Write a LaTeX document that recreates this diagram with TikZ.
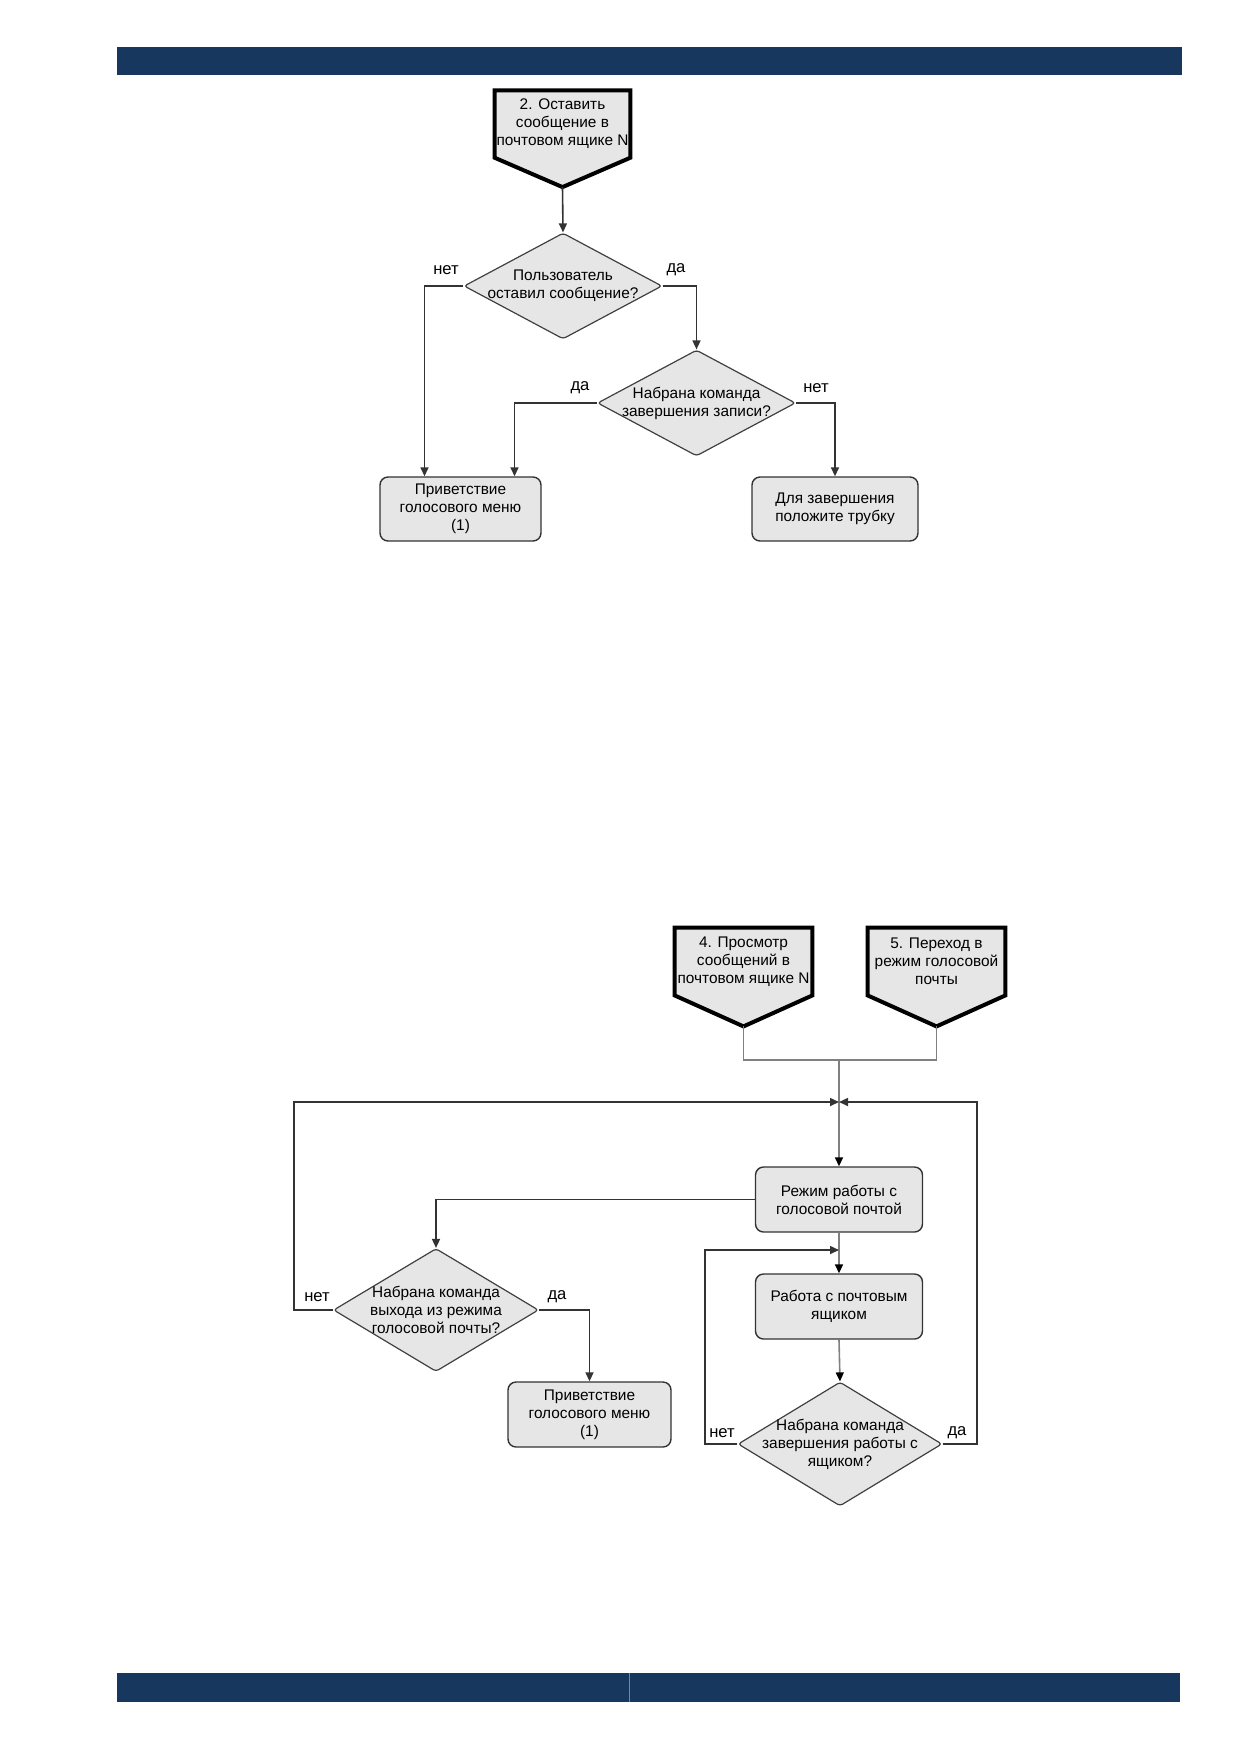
\documentclass[tikz,border=0pt]{standalone}
\usepackage{fontspec}
\setmainfont{Liberation Sans}
\usetikzlibrary{arrows.meta}
\usetikzlibrary{shapes.geometric}
\usetikzlibrary{backgrounds}

\definecolor{barblue}{RGB}{24,55,94}
\definecolor{boxgray}{RGB}{230,230,230}

\tikzset{
  box/.style={rectangle, rounded corners=4pt, draw=black!80, line width=0.7pt,
    fill=boxgray, inner sep=1pt, align=center, font=\fontsize{7.7}{9}\selectfont},
  dec/.style={diamond, rounded corners=1.5pt, draw=black!75, line width=0.6pt,
    fill=boxgray, inner sep=0pt},
  dectext/.style={align=center, inner sep=0pt, font=\fontsize{7.7}{9}\selectfont},
  src/.style={rectangle, inner sep=0pt, align=center, font=\fontsize{7.7}{9}\selectfont},
  srcline/.style={draw=black, line width=2pt, fill=boxgray, line join=miter},
  flow/.style={draw=black!80, line width=0.8pt, -{Triangle[length=4.5pt,width=4pt]}},
  flowgray/.style={draw=black!50, line width=0.8pt, -{Triangle[length=4.5pt,width=4pt,color=black]}},
  link/.style={draw=black!50, line width=0.8pt},
  lbl/.style={inner sep=0pt, font=\fontsize{8.3}{10}\selectfont}
}

\begin{document}
\begin{tikzpicture}[x=0.5pt, y=-0.5pt]
  \useasboundingbox (0,0) rectangle (1239,1752);

  % page bars
  \fill[barblue] (117,47) rectangle (1182,75);
  \fill[barblue] (117,1673) rectangle (1180,1702);
  \draw[barblue!60!white, line width=0.3pt] (629,1673) -- (629,1702);

  % leave a message
  \node[src, minimum width=67.5pt, minimum height=33.3pt] (s2) at (562.5,124)
    {2. Оставить\\сообщение в\\почтовом ящике N};
  \coordinate (s2tip) at ([yshift=-14.7pt]s2.south);

  \node[dec, minimum width=99pt, minimum height=53pt,
    label={[dectext]center:{Пользователь\\оставил сообщение?}}] (d1) at (563,286) {};
  \node[dec, minimum width=99pt, minimum height=53pt,
    label={[dectext]center:{Набрана команда\\завершения записи?}}] (d2) at (696.5,403) {};

  \node[box, minimum width=80.5pt, minimum height=32pt] (g1) at (460.5,509)
    {Приветствие\\голосового меню\\(1)};
  \node[box, minimum width=83pt, minimum height=32pt] (fin) at (835,509)
    {Для завершения\\положите трубку};

  \node[lbl] (n1) at (446,270) {нет};
  \node[lbl] (y1) at (676,270) {да};
  \node[lbl] (y2) at (580,388) {да};
  \node[lbl] (n2) at (816,388) {нет};

  \draw[flow] (s2tip) -- (d1.north);
  \draw[flow] (d1.west) -| ([xshift=-18pt]g1.north);
  \draw[flow] (d1.east) -| (d2.north);
  \draw[flow] (d2.west) -| ([xshift=27pt]g1.north);
  \draw[flow] (d2.east) -| (fin.north);

  % voice mail mode
  \node[src, minimum width=68.5pt, minimum height=33.5pt] (s4) at (743.5,961.5)
    {4. Просмотр\\сообщений в\\почтовом ящике N};
  \coordinate (s4tip) at ([yshift=-15.5pt]s4.south);
  \node[src, minimum width=68.5pt, minimum height=33.5pt] (s5) at (936.5,961.5)
    {5. Переход в\\режим голосовой\\почты};
  \coordinate (s5tip) at ([yshift=-15.5pt]s5.south);

  \node[box, minimum width=83.5pt, minimum height=32.5pt] (mode) at (839,1199.5)
    {Режим работы с\\голосовой почтой};
  \node[box, minimum width=83.5pt, minimum height=32.5pt] (work) at (839,1306.5)
    {Работа с почтовым\\ящиком};
  \node[box, minimum width=81.5pt, minimum height=32.5pt] (g2) at (589.5,1414.5)
    {Приветствие\\голосового меню\\(1)};

  \node[dec, minimum width=102.5pt, minimum height=61.5pt,
    label={[dectext]center:{Набрана команда\\выхода из режима\\голосовой почты?}}] (dexit) at (436,1310) {};
  \node[dec, minimum width=102pt, minimum height=62pt,
    label={[dectext]center:{Набрана команда\\завершения работы с\\ящиком?}}] (dend) at (840,1444) {};

  \node[lbl] (n3) at (317,1297) {нет};
  \node[lbl] (y3) at (557,1297) {да};
  \node[lbl] (n4) at (722,1433) {нет};
  \node[lbl] (y4) at (957,1433) {да};

  \coordinate (merge) at (839,1060);
  \coordinate (join) at (839,1102);
  \coordinate (inner) at (839,1250);
  \coordinate (loopl) at (294,1102);
  \coordinate (loopi) at (705,1250);
  \coordinate (loopr) at (977,1102);

  \draw[link] (s4tip) |- (merge);
  \draw[link] (s5tip) |- (merge);
  \draw[flowgray] (merge) -- (mode.north);
  \draw[flow] (mode.west) -| (dexit.north);
  \draw[flow] (dexit.west) -- (dexit.west -| loopl) |- (join);
  \draw[flow] (dexit.east) -| (g2.north);
  \draw[flowgray] (mode.south) -- (work.north);
  \draw[flowgray] (work.south) -- (dend.north);
  \draw[flow] (dend.west) -- (dend.west -| loopi) |- (inner);
  \draw[flow] (dend.east) -- (dend.east -| loopr) |- (join);

  % off-page shapes behind their text
  \begin{scope}[on background layer]
    \foreach \s in {s2,s4,s5}
      \filldraw[srcline] (\s.south west) -- (\s.north west) -- (\s.north east)
        -- (\s.south east) -- (\s tip) -- cycle;
  \end{scope}
\end{tikzpicture}
\end{document}
